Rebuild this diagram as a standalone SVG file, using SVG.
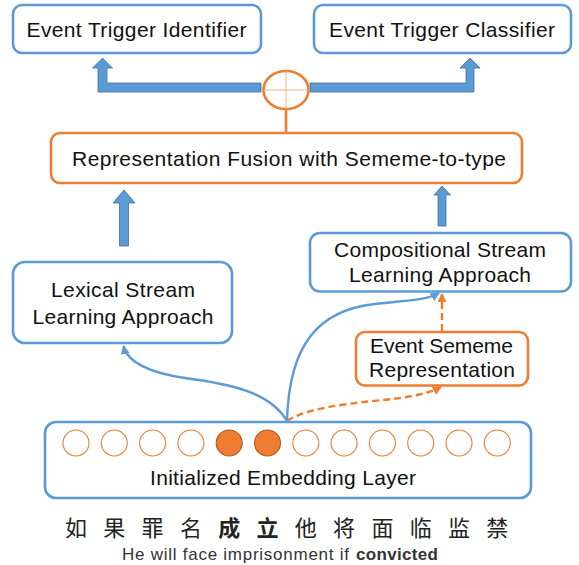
<svg xmlns="http://www.w3.org/2000/svg" width="579" height="565" viewBox="0 0 579 565">
<defs>
<style>
.bbox{fill:#fff;stroke:#5B9BD5;stroke-width:2.6}
.obox{fill:#fff;stroke:#ED7D31;stroke-width:2.6}
.lbl{font-family:"Liberation Sans",Arial,sans-serif;font-size:21px;fill:#111;text-anchor:middle}
.blk{fill:#5B9BD5;stroke:#41719C;stroke-width:0.8}
.bcurve{fill:none;stroke:#5B9BD5;stroke-width:2.4}
.ocurve{fill:none;stroke:#ED7D31;stroke-width:2.4;stroke-dasharray:7 4}
.dot{fill:#fff;stroke:#ED7D31;stroke-width:1.1}
.dotf{fill:#ED7D31;stroke:#AE5A21;stroke-width:1.1}
.cn{font-family:"Noto Sans CJK SC",sans-serif;font-size:22px;fill:#222;text-anchor:middle}
.en{font-family:"Liberation Sans",Arial,sans-serif;font-size:17px;fill:#333}
</style>
<marker id="ab" viewBox="0 0 10 10" refX="9" refY="5" markerWidth="9" markerHeight="9" markerUnits="userSpaceOnUse" orient="auto"><path d="M0,0 L10,5 L0,10 z" fill="#5B9BD5"/></marker>
<marker id="ao" viewBox="0 0 10 10" refX="9" refY="5" markerWidth="9" markerHeight="9" markerUnits="userSpaceOnUse" orient="auto"><path d="M0,0 L10,5 L0,10 z" fill="#ED7D31"/></marker>
</defs>
<rect width="579" height="565" fill="#fff"/>

<g id="connectors">
<polygon class="blk" points="261,83 107,83 107,68 112.5,68 102.5,58 92.5,68 98,68 98,92 261,92"/>
<polygon class="blk" points="310,83 466,83 466,68 460,68 470,58 480,68 474,68 474,92 310,92"/>
<polygon class="blk" points="119.5,246 119.5,203 113,203 124,190 135,203 128.5,203 128.5,246"/>
<polygon class="blk" points="438,226 438,195 434,195 442,186 450.5,195 446,195 446,226"/>
<line x1="286" y1="109" x2="286" y2="133" stroke="#ED7D31" stroke-width="2.6"/>
<path class="bcurve" d="M287,421 C270,392 230,384 185,378 C150,373 127,362 123.5,346" marker-end="url(#ab)"/>
<path class="bcurve" d="M287,421 C289,345 318,310 375,304 C410,300 427,300 439,293" marker-end="url(#ab)"/>
<path class="ocurve" d="M287,421 C310,405 370,402 400,398 C420,395 432,392 441,387" marker-end="url(#ao)"/>
<path class="ocurve" d="M442,331 L442,294" marker-end="url(#ao)"/>
</g>

<g id="fusion-op">
<ellipse cx="286" cy="90" rx="22.5" ry="19" fill="#fff" stroke="#ED7D31" stroke-width="2.6"/>
<line x1="263.5" y1="90" x2="308.5" y2="90" stroke="#F4B183" stroke-width="1"/>
<line x1="286" y1="71" x2="286" y2="109" stroke="#F4B183" stroke-width="1"/>
</g>

<g id="identifier">
<rect class="bbox" x="13" y="5" width="248" height="48" rx="9"/>
<text class="lbl" x="136.5" y="37" textLength="220">Event Trigger Identifier</text>
</g>
<g id="classifier">
<rect class="bbox" x="314" y="5" width="257" height="48" rx="9"/>
<text class="lbl" x="442" y="37" textLength="226">Event Trigger Classifier</text>
</g>
<g id="fusion">
<rect class="obox" x="51" y="133" width="471" height="50" rx="9"/>
<text class="lbl" x="289" y="166" textLength="434">Representation Fusion with Sememe-to-type</text>
</g>
<g id="lexical">
<rect class="bbox" x="13" y="262" width="219" height="81" rx="12"/>
<text class="lbl" x="123" y="297" textLength="144">Lexical Stream</text>
<text class="lbl" x="123" y="323.5" textLength="181">Learning Approach</text>
</g>
<g id="compositional">
<rect class="bbox" x="310" y="233" width="261" height="58.5" rx="10"/>
<text class="lbl" x="440" y="257" textLength="212">Compositional Stream</text>
<text class="lbl" x="440" y="282" textLength="182">Learning Approach</text>
</g>
<g id="sememe">
<rect class="obox" x="356" y="332" width="172" height="53.5" rx="9"/>
<text class="lbl" x="441.5" y="353" textLength="143">Event Sememe</text>
<text class="lbl" x="442" y="377" textLength="146">Representation</text>
</g>
<g id="embedding">
<rect class="bbox" x="45" y="422" width="486" height="76" rx="11"/>
<circle class="dot" cx="76" cy="443" r="13"/>
<circle class="dot" cx="114.3" cy="443" r="13"/>
<circle class="dot" cx="152.6" cy="443" r="13"/>
<circle class="dot" cx="190.9" cy="443" r="13"/>
<circle class="dotf" cx="229.2" cy="443" r="13"/>
<circle class="dotf" cx="267.5" cy="443" r="13"/>
<circle class="dot" cx="305.8" cy="443" r="13"/>
<circle class="dot" cx="344.1" cy="443" r="13"/>
<circle class="dot" cx="382.4" cy="443" r="13"/>
<circle class="dot" cx="420.7" cy="443" r="13"/>
<circle class="dot" cx="459" cy="443" r="13"/>
<circle class="dot" cx="497.3" cy="443" r="13"/>
<text class="lbl" x="283" y="485" textLength="266">Initialized Embedding Layer</text>
</g>

<g id="sentence">
<text class="cn" x="76" y="536">如</text>
<text class="cn" x="114.3" y="536">果</text>
<text class="cn" x="152.6" y="536">罪</text>
<text class="cn" x="190.9" y="536">名</text>
<text class="cn" x="229.2" y="536" font-weight="bold" fill="#000">成</text>
<text class="cn" x="267.5" y="536" font-weight="bold" fill="#000">立</text>
<text class="cn" x="305.8" y="536">他</text>
<text class="cn" x="344.1" y="536">将</text>
<text class="cn" x="382.4" y="536">面</text>
<text class="cn" x="420.7" y="536">临</text>
<text class="cn" x="459" y="536">监</text>
<text class="cn" x="497.3" y="536">禁</text>
<text class="en" x="122" y="560" textLength="227">He will face imprisonment if</text>
<text class="en" x="356" y="560" textLength="82" font-weight="bold" fill="#111">convicted</text>
</g>
</svg>
